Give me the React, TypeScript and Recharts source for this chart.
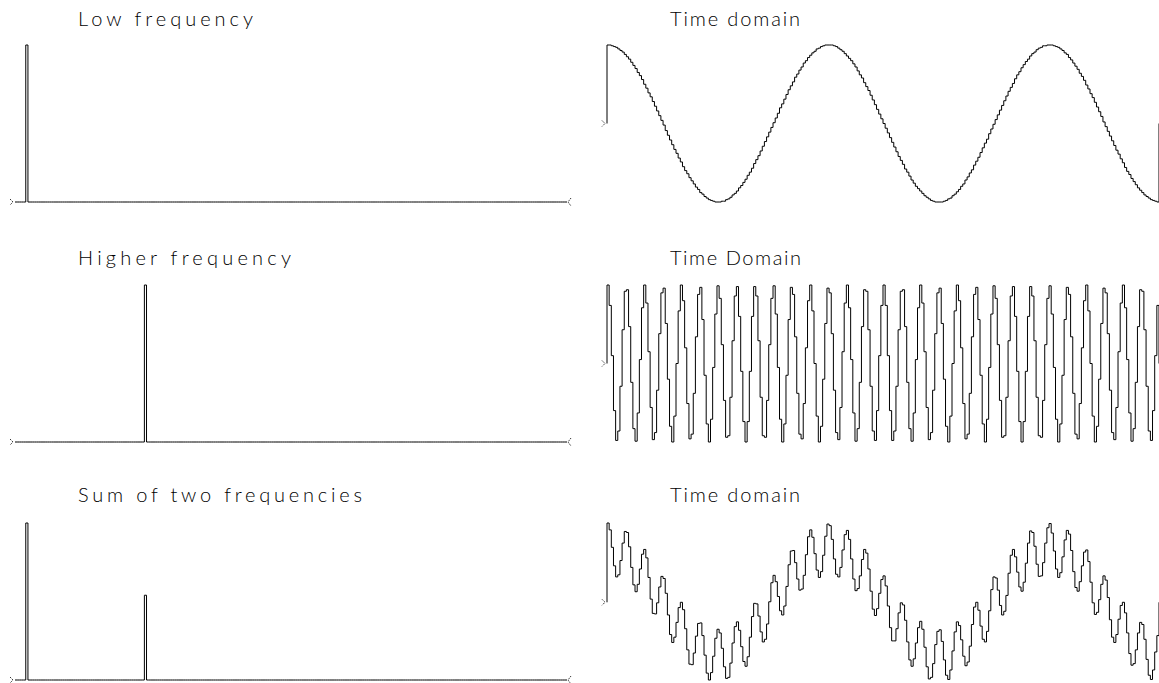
import React from 'react';
import { LineChart, Line, XAxis, YAxis, ReferenceDot } from 'recharts';

// Number of spectrum bins shown (also the number of samples per time record).
const BIN_COUNT = 256;

// Time-domain records (one value per sample).
const lowTime = [
  1.00, 1.00, 0.99, 0.98, 0.97, 0.95, 0.93, 0.91, 0.88, 0.85,
  0.82, 0.78, 0.74, 0.70, 0.65, 0.61, 0.56, 0.50, 0.45, 0.39,
  0.34, 0.28, 0.22, 0.16, 0.10, 0.04, -0.02, -0.09, -0.15, -0.21,
  -0.27, -0.33, -0.38, -0.44, -0.49, -0.55, -0.60, -0.64, -0.69, -0.73,
  -0.77, -0.81, -0.84, -0.88, -0.90, -0.93, -0.95, -0.97, -0.98, -0.99,
  -1.00, -1.00, -1.00, -0.99, -0.99, -0.97, -0.96, -0.94, -0.91, -0.89,
  -0.86, -0.82, -0.79, -0.75, -0.71, -0.66, -0.62, -0.57, -0.51, -0.46,
  -0.41, -0.35, -0.29, -0.23, -0.17, -0.11, -0.05, 0.01, 0.07, 0.13,
  0.20, 0.25, 0.31, 0.37, 0.43, 0.48, 0.53, 0.59, 0.63, 0.68,
  0.72, 0.77, 0.80, 0.84, 0.87, 0.90, 0.92, 0.95, 0.96, 0.98,
  0.99, 1.00, 1.00, 1.00, 1.00, 0.99, 0.98, 0.96, 0.94, 0.92,
  0.89, 0.86, 0.83, 0.80, 0.76, 0.72, 0.67, 0.62, 0.58, 0.52,
  0.47, 0.42, 0.36, 0.30, 0.24, 0.18, 0.12, 0.06, 0.00, -0.06,
  -0.12, -0.18, -0.24, -0.30, -0.36, -0.42, -0.47, -0.52, -0.58, -0.62,
  -0.67, -0.72, -0.76, -0.80, -0.83, -0.86, -0.89, -0.92, -0.94, -0.96,
  -0.98, -0.99, -1.00, -1.00, -1.00, -1.00, -0.99, -0.98, -0.96, -0.95,
  -0.92, -0.90, -0.87, -0.84, -0.80, -0.77, -0.72, -0.68, -0.63, -0.59,
  -0.53, -0.48, -0.43, -0.37, -0.31, -0.25, -0.20, -0.13, -0.07, -0.01,
  0.05, 0.11, 0.17, 0.23, 0.29, 0.35, 0.41, 0.46, 0.51, 0.57,
  0.62, 0.66, 0.71, 0.75, 0.79, 0.82, 0.86, 0.89, 0.91, 0.94,
  0.96, 0.97, 0.99, 0.99, 1.00, 1.00, 1.00, 0.99, 0.98, 0.97,
  0.95, 0.93, 0.90, 0.88, 0.84, 0.81, 0.77, 0.73, 0.69, 0.64,
  0.60, 0.55, 0.49, 0.44, 0.38, 0.33, 0.27, 0.21, 0.15, 0.09,
  0.02, -0.04, -0.10, -0.16, -0.22, -0.28, -0.34, -0.39, -0.45, -0.50,
  -0.56, -0.61, -0.65, -0.70, -0.74, -0.78, -0.82, -0.85, -0.88, -0.91,
  -0.93, -0.95, -0.97, -0.98, -0.99, -1.00,
];

const highTime = [
  1.00, 0.74, 0.10, -0.60, -0.98, -0.86, -0.29, 0.43, 0.92, 0.94,
  0.47, -0.24, -0.83, -0.99, -0.63, 0.05, 0.71, 1.00, 0.77, 0.15,
  -0.56, -0.97, -0.88, -0.34, 0.38, 0.90, 0.96, 0.51, -0.20, -0.80,
  -1.00, -0.67, 0.00, 0.67, 1.00, 0.80, 0.20, -0.51, -0.96, -0.90,
  -0.38, 0.34, 0.88, 0.97, 0.56, -0.15, -0.77, -1.00, -0.71, -0.05,
  0.63, 0.99, 0.83, 0.24, -0.47, -0.94, -0.92, -0.43, 0.29, 0.86,
  0.98, 0.60, -0.10, -0.74, -1.00, -0.74, -0.10, 0.60, 0.98, 0.86,
  0.29, -0.43, -0.92, -0.94, -0.47, 0.24, 0.83, 0.99, 0.63, -0.05,
  -0.71, -1.00, -0.77, -0.15, 0.56, 0.97, 0.88, 0.34, -0.38, -0.90,
  -0.96, -0.51, 0.20, 0.80, 1.00, 0.67, 0.00, -0.67, -1.00, -0.80,
  -0.20, 0.51, 0.96, 0.90, 0.38, -0.34, -0.88, -0.97, -0.56, 0.15,
  0.77, 1.00, 0.71, 0.05, -0.63, -0.99, -0.83, -0.24, 0.47, 0.94,
  0.92, 0.43, -0.29, -0.86, -0.98, -0.60, 0.10, 0.74,
  1.00, 0.74, 0.10, -0.60, -0.98, -0.86, -0.29, 0.43, 0.92, 0.94,
  0.47, -0.24, -0.83, -0.99, -0.63, 0.05, 0.71, 1.00, 0.77, 0.15,
  -0.56, -0.97, -0.88, -0.34, 0.38, 0.90, 0.96, 0.51, -0.20, -0.80,
  -1.00, -0.67, 0.00, 0.67, 1.00, 0.80, 0.20, -0.51, -0.96, -0.90,
  -0.38, 0.34, 0.88, 0.97, 0.56, -0.15, -0.77, -1.00, -0.71, -0.05,
  0.63, 0.99, 0.83, 0.24, -0.47, -0.94, -0.92, -0.43, 0.29, 0.86,
  0.98, 0.60, -0.10, -0.74, -1.00, -0.74, -0.10, 0.60, 0.98, 0.86,
  0.29, -0.43, -0.92, -0.94, -0.47, 0.24, 0.83, 0.99, 0.63, -0.05,
  -0.71, -1.00, -0.77, -0.15, 0.56, 0.97, 0.88, 0.34, -0.38, -0.90,
  -0.96, -0.51, 0.20, 0.80, 1.00, 0.67, 0.00, -0.67, -1.00, -0.80,
  -0.20, 0.51, 0.96, 0.90, 0.38, -0.34, -0.88, -0.97, -0.56, 0.15,
  0.77, 1.00, 0.71, 0.05, -0.63, -0.99, -0.83, -0.24, 0.47, 0.94,
  0.92, 0.43, -0.29, -0.86, -0.98, -0.60, 0.10, 0.74,
];

const sumTime = [
  1.50, 1.37, 1.04, 0.69, 0.48, 0.52, 0.79, 1.12, 1.34, 1.32,
  1.05, 0.66, 0.33, 0.20, 0.34, 0.63, 0.91, 1.00, 0.84, 0.47,
  0.06, -0.21, -0.22, -0.01, 0.29, 0.49, 0.45, 0.17, -0.24, -0.61,
  -0.76, -0.66, -0.38, -0.10, 0.00, -0.14, -0.50, -0.90, -1.17, -1.18,
  -0.96, -0.64, -0.40, -0.39, -0.63, -1.00, -1.34, -1.47, -1.33, -1.02,
  -0.68, -0.51, -0.58, -0.87, -1.22, -1.44, -1.42, -1.15, -0.77, -0.46,
  -0.37, -0.53, -0.84, -1.12, -1.21, -1.03, -0.66, -0.27, -0.02, -0.03,
  -0.26, -0.56, -0.75, -0.70, -0.41, 0.01, 0.37, 0.51, 0.39, 0.11,
  -0.16, -0.24, -0.07, 0.30, 0.71, 0.97, 0.98, 0.75, 0.44, 0.23,
  0.25, 0.51, 0.90, 1.24, 1.37, 1.23, 0.92, 0.61, 0.47, 0.58,
  0.89, 1.25, 1.48, 1.45, 1.19, 0.82, 0.53, 0.48, 0.66, 0.99,
  1.28, 1.36, 1.19, 0.82, 0.44, 0.22, 0.26, 0.50, 0.81, 1.00,
  0.93, 0.63, 0.21, -0.13, -0.25, -0.12, 0.17, 0.43, 0.50, 0.31,
  -0.07, -0.48, -0.73, -0.73, -0.50, -0.20, -0.01, -0.05, -0.34, -0.75,
  -1.09, -1.21, -1.07, -0.77, -0.48, -0.36, -0.51, -0.85, -1.22, -1.45,
  -1.42, -1.16, -0.80, -0.55, -0.52, -0.74, -1.09, -1.38, -1.46, -1.28,
  -0.92, -0.56, -0.37, -0.44, -0.71, -1.02, -1.20, -1.13, -0.83, -0.42,
  -0.09, 0.00, -0.15, -0.45, -0.70, -0.75, -0.55, -0.16, 0.24, 0.48,
  0.46, 0.23, -0.06, -0.24, -0.17, 0.13, 0.55, 0.89, 1.00, 0.86,
  0.57, 0.29, 0.21, 0.38, 0.74, 1.12, 1.35, 1.32, 1.06, 0.72,
  0.49, 0.50, 0.75, 1.12, 1.41, 1.49, 1.31, 0.97, 0.63, 0.47,
  0.56, 0.86, 1.18, 1.36, 1.29, 0.98, 0.58, 0.28, 0.21, 0.39,
  0.69, 0.95, 0.99, 0.77, 0.38, -0.01, -0.23, -0.19, 0.05, 0.34,
  0.50, 0.42, 0.09, -0.33, -0.66, -0.76, -0.61, -0.32, -0.06, 0.00,
  -0.20, -0.58, -0.97, -1.19, -1.16, -0.90, -0.58, -0.38, -0.42, -0.70,
  -1.08, -1.38, -1.46, -1.28, -0.94, -0.63,
];

// Spectrum peaks (every other bin is zero).
const lowSpectrum = [{ bin: 5, magnitude: 1 }];
const highSpectrum = [{ bin: 60, magnitude: 1 }];
const sumSpectrum = [
  { bin: 5, magnitude: 1 },
  { bin: 60, magnitude: 0.54 },
];

const spectrumTitles = ['Low frequency', 'Higher frequency', 'Sum of two frequencies'];
const timeTitles = ['Time domain', 'Time Domain', 'Time domain'];

type Row = { x: number; y: number };

function spectrumRows(spikes: { bin: number; magnitude: number }[]): Row[] {
  const rows: Row[] = [];
  for (let k = 0; k < BIN_COUNT; k++) {
    const hit = spikes.find((s) => s.bin === k);
    rows.push({ x: k, y: hit ? hit.magnitude : 0 });
  }
  rows.push({ x: BIN_COUNT, y: 0 });
  return rows;
}

// The trace starts and ends on the zero line, like a pen-plotter record.
function timeRows(samples: number[]): Row[] {
  const rows: Row[] = [{ x: 0, y: 0 }];
  samples.forEach((v, i) => rows.push({ x: i, y: v }));
  rows.push({ x: samples.length, y: 0 });
  return rows;
}

const PAD = 12;
const PLOT_W = 552;
const PLOT_H = 157;
const LEFT_X = [15, 607];
const ROW_TOP = [45, 285, 523];
const TITLE_X = [78, 670];
const TITLE_BASE = [26, 265, 502];
const SPECTRUM_TITLE_W = [175, 213, 284];
const TIME_TITLE_W = [130, 131, 130];
const TITLE_FONT = "Lato, 'DejaVu Sans', sans-serif";

const StartMark = (props: any) => {
  const { cx, cy } = props;
  return (
    <path
      d={`M${cx - 5},${cy - 3}L${cx - 2},${cy}L${cx - 5},${cy + 3}`}
      stroke="#222"
      strokeWidth={0.9}
      fill="none"
      strokeDasharray="1.6 1"
    />
  );
};

const EndMark = (props: any) => {
  const { cx, cy } = props;
  return (
    <path
      d={`M${cx + 4},${cy - 4}L${cx + 1},${cy}L${cx + 4},${cy + 4}`}
      stroke="#222"
      strokeWidth={0.9}
      fill="none"
      strokeDasharray="1.6 1"
    />
  );
};

function Panel({
  rows,
  yDomain,
  left,
  top,
  endMark,
}: {
  rows: Row[];
  yDomain: [number, number];
  left: number;
  top: number;
  endMark: boolean;
}) {
  return (
    <div style={{ position: 'absolute', left: left - PAD, top: top - PAD }}>
      <LineChart
        width={PLOT_W + 2 * PAD}
        height={PLOT_H + 2 * PAD}
        data={rows}
        margin={{ top: PAD, right: PAD, bottom: PAD, left: PAD }}
      >
        <XAxis type="number" dataKey="x" domain={[0, BIN_COUNT]} hide />
        <YAxis type="number" domain={yDomain} hide />
        <Line
          type="stepAfter"
          dataKey="y"
          stroke="#000"
          strokeWidth={1}
          dot={false}
          activeDot={false}
          isAnimationActive={false}
        />
        <ReferenceDot x={0} y={0} r={0} ifOverflow="visible" shape={StartMark} />
        {endMark && (
          <ReferenceDot x={BIN_COUNT} y={0} r={0} ifOverflow="visible" shape={EndMark} />
        )}
      </LineChart>
    </div>
  );
}

const extent = (v: number[]): [number, number] => [Math.min(...v), Math.max(...v)];

export default function App() {
  const spectra = [lowSpectrum, highSpectrum, sumSpectrum];
  const records = [lowTime, highTime, sumTime];

  return (
    <div
      style={{
        position: 'absolute',
        left: 0,
        top: 0,
        width: 1159,
        height: 683,
        background: '#fff',
        overflow: 'hidden',
      }}
    >
      {spectra.map((s, i) => (
        <Panel
          key={`s${i}`}
          rows={spectrumRows(s)}
          yDomain={[0, 1]}
          left={LEFT_X[0]}
          top={ROW_TOP[i]}
          endMark
        />
      ))}
      {records.map((r, i) => (
        <Panel
          key={`t${i}`}
          rows={timeRows(r)}
          yDomain={extent(r)}
          left={LEFT_X[1]}
          top={ROW_TOP[i]}
          endMark={false}
        />
      ))}
      <svg
        width={1159}
        height={683}
        style={{ position: 'absolute', left: 0, top: 0, pointerEvents: 'none' }}
      >
        {spectrumTitles.map((t, i) => (
          <text
            key={`st${i}`}
            x={TITLE_X[0]}
            y={TITLE_BASE[i]}
            textLength={SPECTRUM_TITLE_W[i]}
            lengthAdjust="spacing"
            fontFamily={TITLE_FONT}
            fontWeight={300}
            fontSize={20}
            fill="#000"
          >
            {t}
          </text>
        ))}
        {timeTitles.map((t, i) => (
          <text
            key={`tt${i}`}
            x={TITLE_X[1]}
            y={TITLE_BASE[i]}
            textLength={TIME_TITLE_W[i]}
            lengthAdjust="spacing"
            fontFamily={TITLE_FONT}
            fontWeight={300}
            fontSize={20}
            fill="#000"
          >
            {t}
          </text>
        ))}
      </svg>
    </div>
  );
}
